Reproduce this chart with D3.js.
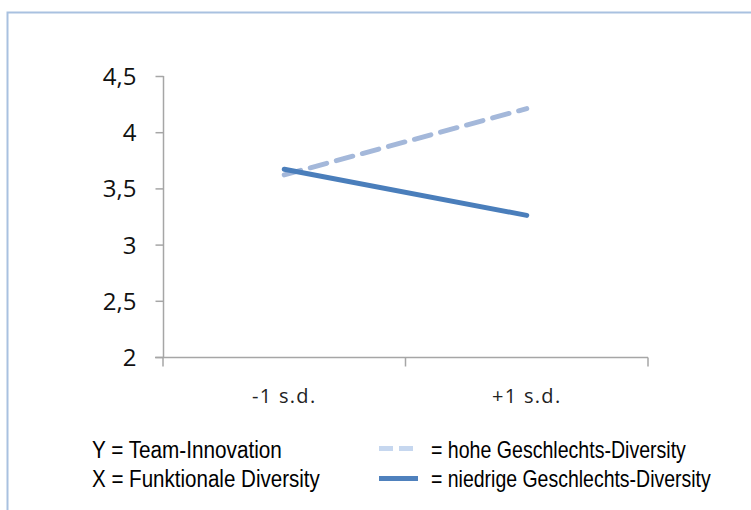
<!DOCTYPE html>
<html><head><meta charset="utf-8">
<script src="https://cdn.jsdelivr.net/npm/d3@7"></script>
<style>body{margin:0;background:#fff}svg{display:block}</style>
</head><body>
<svg id="c" width="751" height="510"></svg>
<script>
const categories = ["-1 s.d.", "+1 s.d."];
const hoheValues = [3.62, 4.21];
const niedrigeValues = [3.67, 3.26];
const yTicks = [2, 2.5, 3, 3.5, 4, 4.5];
const yTickLabels = ["2", "2,5", "3", "3,5", "4", "4,5"];
const legendLeft = ["Y = Team-Innovation", "X = Funktionale Diversity"];
const legendRight = ["= hohe Geschlechts-Diversity", "= niedrige Geschlechts-Diversity"];

const svg = d3.select("#c");
svg.append("rect").attr("x", 0).attr("y", 0).attr("width", 751).attr("height", 510).attr("fill", "#fff");
// outer frame
svg.append("path").attr("d", "M7.5,510 V12.5 H751").attr("fill", "none").attr("stroke", "#a9c1e0").attr("stroke-width", 2);

const x = d3.scaleBand().domain(categories).range([163, 648]);
const y = d3.scaleLinear().domain([2, 4.5]).range([357, 76]);
const axisColor = "#a6a6a6";
const tickFont = "'Open Sans', 'Noto Sans', sans-serif";

// y axis
const ya = svg.append("g").attr("transform", "translate(163.5,0)")
  .call(d3.axisLeft(y).tickValues(yTicks).tickFormat((d, i) => yTickLabels[i]).tickSize(8).tickSizeOuter(0).tickPadding(8));
ya.select(".domain").attr("stroke", axisColor).attr("stroke-width", 1.5).attr("d", `M0,${y(4.5)}V${y(2)}`);
ya.selectAll(".tick line").attr("stroke", axisColor).attr("stroke-width", 1.5);
ya.selectAll(".tick text").attr("font-family", tickFont).attr("font-size", 24).attr("fill", "#111").attr("dx", "-11").attr("dy", "0.35em");

// x axis
const xa = svg.append("g").attr("transform", `translate(0,${y(2) + 0.5})`);
xa.append("line").attr("x1", 155).attr("x2", 648).attr("y1", 0).attr("y2", 0).attr("stroke", axisColor).attr("stroke-width", 1.5);
const xTickPos = [163, 163 + x.bandwidth(), 648];
xa.selectAll("line.t").data(xTickPos).enter().append("line").attr("class", "t")
  .attr("x1", d => d).attr("x2", d => d).attr("y1", 0).attr("y2", 9).attr("stroke", axisColor).attr("stroke-width", 1.5);
xa.selectAll("text").data(categories).enter().append("text")
  .attr("x", d => x(d) + x.bandwidth() / 2).attr("y", 45).attr("text-anchor", "middle")
  .attr("font-family", tickFont).attr("font-size", 20).attr("letter-spacing", 1.3).attr("fill", "#222").text(d => d);

const line = d3.line().x((d, i) => x(categories[i]) + x.bandwidth() / 2).y(d => y(d));
svg.append("path").datum(hoheValues).attr("d", line).attr("fill", "none")
  .attr("stroke", "#a4b8da").attr("stroke-width", 5).attr("stroke-dasharray", "17,10").attr("stroke-linecap", "round");
svg.append("path").datum(niedrigeValues).attr("d", line).attr("fill", "none")
  .attr("stroke", "#4a7ebb").attr("stroke-width", 5).attr("stroke-linecap", "round");

// legend (condensed text via horizontal scaling)
const legFont = "'Liberation Sans', 'Arial', sans-serif";
const lg = svg.append("g");
function condensedText(t, x0, y0, w) {
  const g = lg.append("g");
  const tx = g.append("text").attr("x", 0).attr("y", 0).attr("font-family", legFont).attr("font-size", 23)
    .attr("fill", "#000").text(t);
  const nat = tx.node().getComputedTextLength();
  g.attr("transform", `translate(${x0},${y0}) scale(${w / nat},1)`);
}
legendLeft.forEach((t, i) => condensedText(t, 92, 458 + i * 29, i === 0 ? 190 : 228));
lg.append("line").attr("x1", 379).attr("x2", 413).attr("y1", 448.5).attr("y2", 448.5).attr("stroke", "#c6d7ef").attr("stroke-width", 5).attr("stroke-dasharray", "14,6");
lg.append("line").attr("x1", 379).attr("x2", 418).attr("y1", 478.5).attr("y2", 478.5).attr("stroke", "#4f81bd").attr("stroke-width", 5);
legendRight.forEach((t, i) => condensedText(t, 431, 458 + i * 29, i === 0 ? 255 : 280));
</script>
</body></html>
